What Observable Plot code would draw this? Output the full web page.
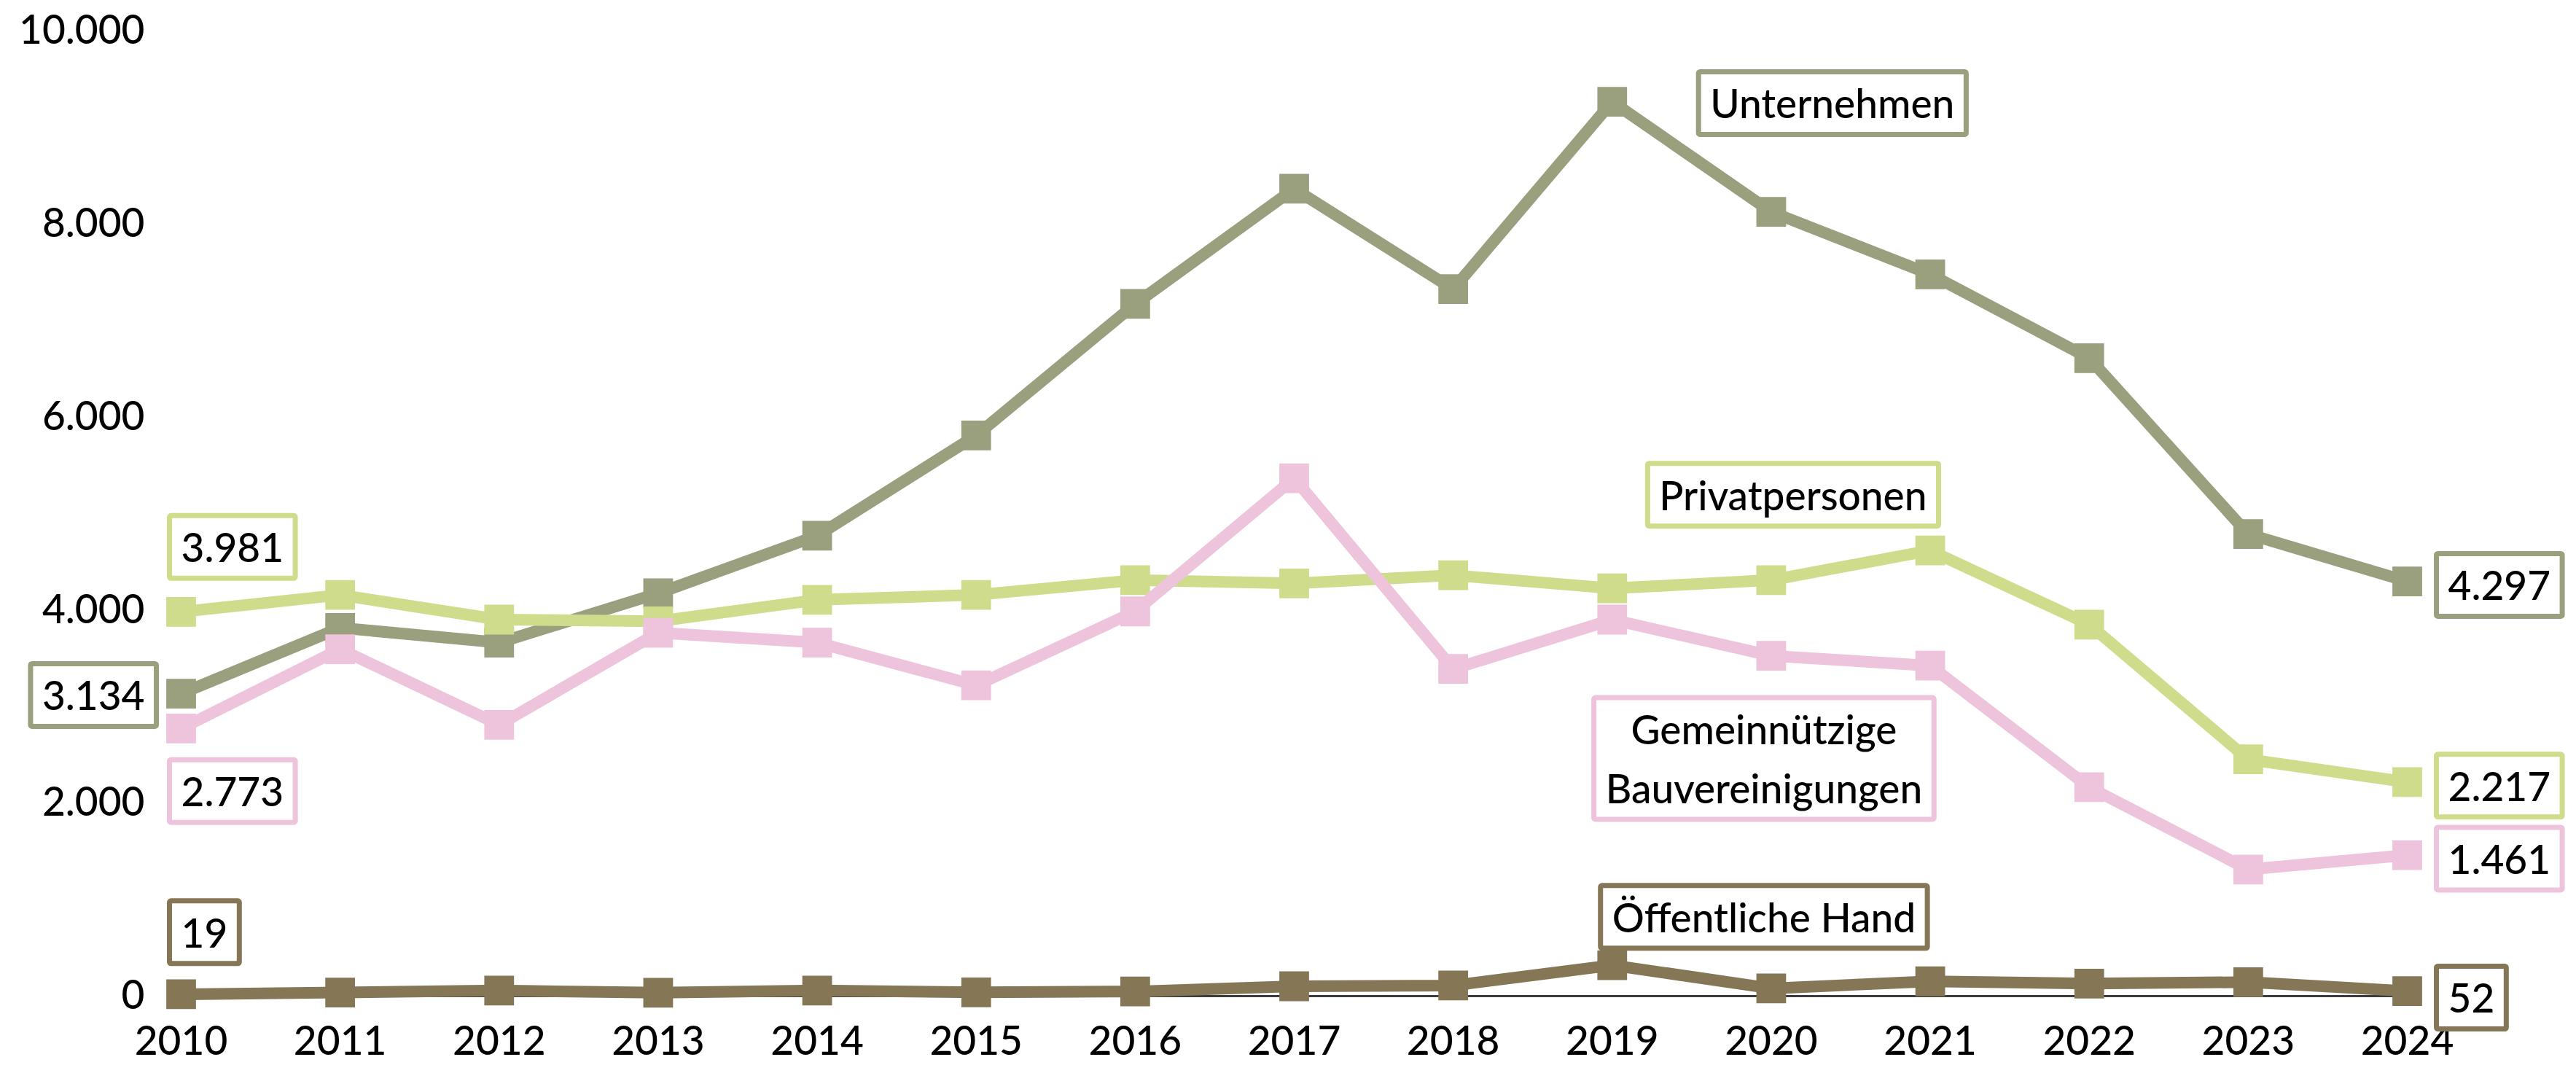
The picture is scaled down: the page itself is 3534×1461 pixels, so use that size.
<!DOCTYPE html>
<html>
<head>
<meta charset="utf-8">
<script src="https://cdn.jsdelivr.net/npm/d3@7"></script>
<script src="https://cdn.jsdelivr.net/npm/@observablehq/plot@0.6"></script>
<style>
  html, body { margin: 0; padding: 0; background: #fff; }
  #chart svg { display: block; }
</style>
</head>
<body>
<div id="chart"></div>
<script>
// Years on the x axis
const years = [2010, 2011, 2012, 2013, 2014, 2015, 2016, 2017, 2018, 2019, 2020, 2021, 2022, 2023, 2024];

// Series values per year
const unternehmen      = [3134, 3816, 3663, 4174, 4770, 5809, 7172, 8365, 7325, 9267, 8126, 7479, 6610, 4787, 4297];
const privatpersonen   = [3981, 4157, 3901, 3884, 4106, 4157, 4310, 4276, 4361, 4225, 4310, 4617, 3850, 2453, 2217];
const gemeinnuetzige   = [2773, 3595, 2811, 3765, 3663, 3220, 3986, 5366, 3390, 3901, 3526, 3424, 2164, 1312, 1461];
const oeffentlicheHand = [19, 37, 58, 35, 58, 39, 48, 102, 110, 320, 80, 153, 130, 145, 52];

// Series names
const seriesNames = ["Öffentliche Hand", "Unternehmen", "Privatpersonen", "Gemeinnützige\nBauvereinigungen"];

// Y axis ticks
const yTicks = [0, 2000, 4000, 6000, 8000, 10000];

// German number formatting (thousands separator ".")
const de = d3.formatLocale({decimal: ",", thousands: ".", grouping: [3], currency: ["", " €"]});
const fmt = de.format(",d");

const colors = {
  "Öffentliche Hand": "#857656",
  "Unternehmen": "#9a9f7e",
  "Privatpersonen": "#cfdc8b",
  "Gemeinnützige\nBauvereinigungen": "#eec3dc"
};

const valuesByName = {
  "Öffentliche Hand": oeffentlicheHand,
  "Unternehmen": unternehmen,
  "Privatpersonen": privatpersonen,
  "Gemeinnützige\nBauvereinigungen": gemeinnuetzige
};

const rows = seriesNames.flatMap(name =>
  years.map((year, i) => ({name, year, value: valuesByName[name][i]}))
);

const point = (name, year) => rows.find(d => d.name === name && d.year === year);

// Boxed labels: value labels at both ends and the series names
const labels = [
  {name: "Privatpersonen", year: 2010, text: d => fmt(d.value), anchor: "start", dx: 0, dy: -94},
  {name: "Unternehmen", year: 2010, text: d => fmt(d.value), anchor: "end", dx: -50, dy: -3},
  {name: "Gemeinnützige\nBauvereinigungen", year: 2010, text: d => fmt(d.value), anchor: "start", dx: 0, dy: 81},
  {name: "Öffentliche Hand", year: 2010, text: d => fmt(d.value), anchor: "start", dx: 0, dy: -90},
  {name: "Unternehmen", year: 2024, text: d => fmt(d.value), anchor: "start", dx: 56, dy: 0},
  {name: "Privatpersonen", year: 2024, text: d => fmt(d.value), anchor: "start", dx: 56, dy: 0},
  {name: "Gemeinnützige\nBauvereinigungen", year: 2024, text: d => fmt(d.value), anchor: "start", dx: 56, dy: 0},
  {name: "Öffentliche Hand", year: 2024, text: d => fmt(d.value), anchor: "start", dx: 56, dy: 4},
  {name: "Unternehmen", year: 2019, text: d => d.name, anchor: "middle", dx: 302, dy: -3},
  {name: "Privatpersonen", year: 2020, text: d => d.name, anchor: "middle", dx: 30, dy: -122},
  {name: "Gemeinnützige\nBauvereinigungen", year: 2020, text: d => d.name, anchor: "middle", dx: -10, dy: 136},
  {name: "Öffentliche Hand", year: 2020, text: d => d.name, anchor: "middle", dx: -10, dy: -103}
];

const seriesMarks = seriesNames.flatMap(name => {
  const data = rows.filter(d => d.name === name);
  return [
    Plot.line(data, {x: "year", y: "value", stroke: colors[name], strokeWidth: 16, strokeLinejoin: "miter"}),
    Plot.dot(data, {x: "year", y: "value", symbol: "square", r: 23, fill: colors[name], stroke: "none"})
  ];
});

const labelMarks = labels.map(l =>
  Plot.text([point(l.name, l.year)], {
    x: "year", y: "value", text: l.text,
    textAnchor: l.anchor, dx: l.dx, dy: l.dy,
    fill: "#000", fontSize: 55, fontWeight: 500, lineHeight: 1.47,
    ariaDescription: "boxed label"
  })
);

const svg = Plot.plot({
  width: 3534,
  height: 1461,
  marginLeft: 248,
  marginRight: 232,
  marginTop: 42,
  marginBottom: 95,
  style: {fontFamily: "Lato, sans-serif", fontSize: "55px", fontWeight: 500, color: "#000", background: "#fff"},
  x: {type: "linear", domain: [2010, 2024], label: null},
  y: {domain: [0, 10000], label: null},
  marks: [
    Plot.axisX({ticks: years, tickFormat: d => `${d}`, tickSize: 0, tickPadding: 41, fontSize: 55, fontWeight: 500, fill: "#000", label: null}),
    Plot.axisY({ticks: yTicks, tickFormat: fmt, tickSize: 0, tickPadding: 50, fontSize: 55, fontWeight: 500, fill: "#000", label: null}),
    Plot.ruleY([0], {stroke: "#3c3c3c", strokeWidth: 3}),
    ...seriesMarks,
    ...labelMarks
  ]
});

document.getElementById("chart").append(svg);

// Frame each label with a white box outlined in its series colour
const padX = 16, padY = 10;
svg.querySelectorAll('g[aria-description="boxed label"]').forEach((g, i) => {
  const bb = g.getBBox();
  const rect = document.createElementNS("http://www.w3.org/2000/svg", "rect");
  rect.setAttribute("x", bb.x - padX);
  rect.setAttribute("y", bb.y - padY);
  rect.setAttribute("width", bb.width + 2 * padX);
  rect.setAttribute("height", bb.height + 2 * padY);
  rect.setAttribute("fill", "#fff");
  rect.setAttribute("stroke", colors[labels[i].name]);
  rect.setAttribute("stroke-width", 7);
  rect.setAttribute("rx", 2);
  g.insertBefore(rect, g.firstChild);
});
</script>
</body>
</html>
